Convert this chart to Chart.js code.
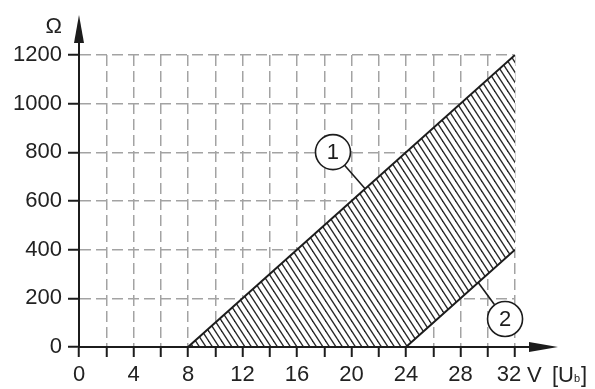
<!DOCTYPE html>
<html><head><meta charset="utf-8">
<style>html,body{margin:0;padding:0;background:#fff;}#wrap{width:595px;height:389px;}canvas{display:block;}</style>
<script src="https://cdn.jsdelivr.net/npm/chart.js@4.4.0/dist/chart.umd.min.js"></script>
</head><body><div id="wrap"><canvas id="c" width="595" height="389"></canvas></div>
<script>
// ---- data ----
const xLabelValues = [0, 4, 8, 12, 16, 20, 24, 28, 32];      // labelled ticks (V)
const yLabelValues = [0, 200, 400, 600, 800, 1000, 1200];    // labelled ticks (Ω)
const curve1U = [8, 32];          // curve 1: voltage
const curve1R = [0, 1200];        // curve 1: resistance
const curve2U = [8, 24, 32];      // curve 2: voltage
const curve2R = [0, 0, 400];      // curve 2: resistance
const calloutText = ['1', '2'];
const calloutLineU = [21.0, 29.3];   // where leader meets the curve
const calloutLineR = [650, 265];
const calloutU = [18.64, 31.27];     // circle centre
const calloutR = [801, 115];

const FONT = "'Liberation Sans', Arial, Helvetica, sans-serif";
const INK = '#1c1c1c';
const GRID = '#a3a3a3';

function makeHatch() {
  const c = document.createElement('canvas');
  c.width = 13; c.height = 20;
  const g = c.getContext('2d');
  g.fillStyle = '#fff'; g.fillRect(0, 0, 13, 20);
  g.strokeStyle = '#262626'; g.lineWidth = 1.35;
  for (let o = -26; o <= 26; o += 6.5) {
    g.beginPath(); g.moveTo(o - 6.5, -10); g.lineTo(o + 19.5, 30); g.stroke();
  }
  return g.createPattern(c, 'repeat');
}

const gridColor = (ctx) => (ctx.tick && ctx.tick.value === 0) ? 'rgba(0,0,0,0)' : GRID;

const decorPlugin = {
  id: 'decor',
  afterDatasetsDraw(chart) {
    const {ctx, scales: {x, y}} = chart;
    ctx.save();
    for (let i = 0; i < calloutText.length; i++) {
      const cx = x.getPixelForValue(calloutU[i]), cy = y.getPixelForValue(calloutR[i]);
      const lx = x.getPixelForValue(calloutLineU[i]), ly = y.getPixelForValue(calloutLineR[i]);
      const r = 17.5;
      ctx.strokeStyle = INK; ctx.lineWidth = 1.6;
      ctx.beginPath(); ctx.moveTo(lx, ly); ctx.lineTo(cx, cy); ctx.stroke();
      ctx.beginPath(); ctx.arc(cx, cy, r, 0, Math.PI * 2);
      ctx.fillStyle = '#fff'; ctx.fill(); ctx.stroke();
      ctx.fillStyle = INK; ctx.font = '22px ' + FONT;
      ctx.textAlign = 'center'; ctx.textBaseline = 'middle';
      ctx.fillText(calloutText[i], cx, cy + 1);
    }
    ctx.restore();
  },
  afterDraw(chart) {
    const {ctx, chartArea: a} = chart;
    ctx.save();
    ctx.strokeStyle = INK; ctx.fillStyle = INK; ctx.lineWidth = 2;
    ctx.beginPath(); ctx.moveTo(a.left, a.top); ctx.lineTo(a.left, a.top - 14); ctx.stroke();
    ctx.beginPath(); ctx.moveTo(a.left, a.top - 40); ctx.lineTo(a.left + 5, a.top - 12); ctx.lineTo(a.left - 5, a.top - 12); ctx.closePath(); ctx.fill();
    ctx.beginPath(); ctx.moveTo(a.right, a.bottom); ctx.lineTo(a.right + 16, a.bottom); ctx.stroke();
    ctx.beginPath(); ctx.moveTo(a.right + 43, a.bottom); ctx.lineTo(a.right + 14, a.bottom - 5); ctx.lineTo(a.right + 14, a.bottom + 5); ctx.closePath(); ctx.fill();
    ctx.fillStyle = '#222';
    ctx.font = '22px ' + FONT; ctx.textAlign = 'right'; ctx.textBaseline = 'middle';
    ctx.fillText('Ω', a.left - 17, a.top - 28);
    ctx.textAlign = 'left'; ctx.textBaseline = 'alphabetic';
    const base = a.bottom + 35;
    ctx.fillText('V', a.right + 12, base);
    let px = a.right + 37;
    ctx.fillText('[U', px, base);
    px += ctx.measureText('[U').width;
    ctx.font = '11px ' + FONT;
    ctx.fillText('b', px, base);
    px += ctx.measureText('b').width + 1;
    ctx.font = '22px ' + FONT;
    ctx.fillText(']', px, base);
    ctx.restore();
  }
};

new Chart(document.getElementById('c'), {
  type: 'scatter',
  data: {
    datasets: [
      { label: '1', data: curve1U.map((u, i) => ({x: u, y: curve1R[i]})), showLine: true,
        borderColor: INK, borderWidth: 2, pointRadius: 0, fill: '+1', backgroundColor: makeHatch() },
      { label: '2', data: curve2U.map((u, i) => ({x: u, y: curve2R[i]})), showLine: true,
        borderColor: INK, borderWidth: 2, pointRadius: 0, fill: false }
    ]
  },
  options: {
    responsive: false, animation: false, devicePixelRatio: 1,
    layout: { padding: { top: 55, right: 80, left: 0, bottom: 0 } },
    plugins: { legend: { display: false }, tooltip: { enabled: false }, filler: { drawTime: 'beforeDatasetsDraw' } },
    scales: {
      x: {
        type: 'linear', min: 0, max: 32,
        afterFit: (s) => { s.height = 42; },
        ticks: { stepSize: 2, autoSkip: false, maxRotation: 0, minRotation: 0, padding: 5, color: '#222',
          font: { family: FONT, size: 22 },
          callback: (v) => xLabelValues.includes(v) ? (v === 32 ? '32  ' : String(v)) : '' },
        grid: { color: gridColor, lineWidth: 1.5, tickColor: INK, tickWidth: 2, tickLength: 10, tickBorderDash: [] },
        border: { display: true, color: INK, width: 2, dash: [11, 5] }
      },
      y: {
        min: 0, max: 1200,
        afterFit: (s) => { s.width = 79; },
        ticks: { stepSize: 200, padding: 6, color: '#222', font: { family: FONT, size: 22 },
          callback: (v) => yLabelValues.includes(v) ? String(v) : '' },
        grid: { color: gridColor, lineWidth: 1.5, tickColor: INK, tickWidth: 2, tickLength: 11, tickBorderDash: [] },
        border: { display: true, color: INK, width: 2, dash: [11, 5] }
      }
    }
  },
  plugins: [decorPlugin]
});
</script></body></html>
